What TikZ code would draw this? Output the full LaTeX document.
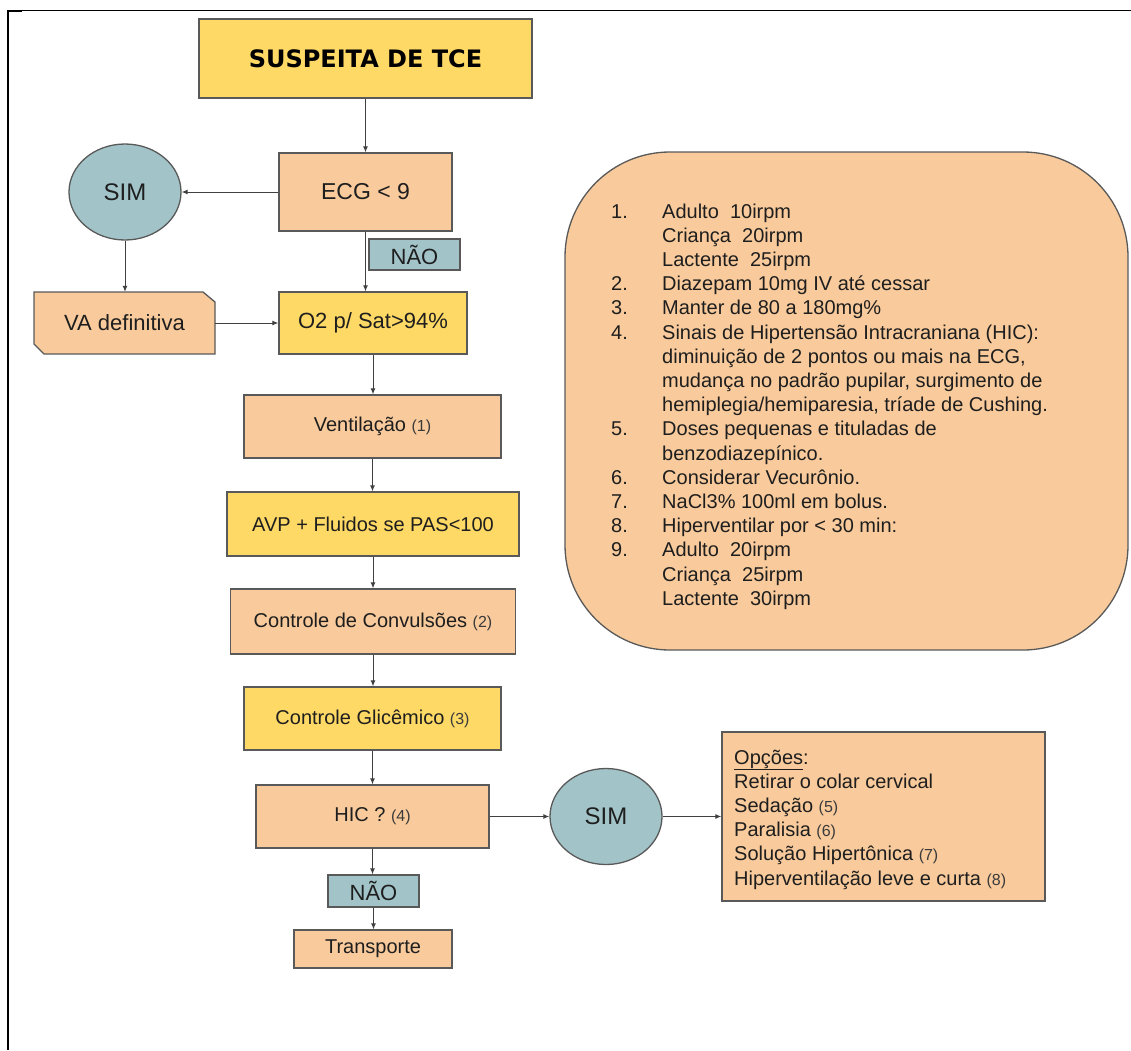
\documentclass[tikz,border=0pt]{standalone}
\usepackage{fontspec}
\setmainfont{Liberation Sans}
\newfontfamily\titlefont{DejaVu Sans}
\usetikzlibrary{arrows.meta,shapes.geometric}

\definecolor{boxyellow}{HTML}{FFD966}
\definecolor{boxpeach}{HTML}{F9CB9C}
\definecolor{boxteal}{HTML}{A2C4C9}
\definecolor{edge}{HTML}{595959}
\definecolor{ink}{HTML}{1E1E1E}
\definecolor{inksoft}{HTML}{3A3A3A}

% small reference number after a step
\newcommand\pnum[1]{{\fontsize{16}{18}\selectfont\color{inksoft}(#1)}}
\newcommand\bodytext{\fontsize{20}{24.2}\selectfont}

\begin{document}
\begin{tikzpicture}[x=1pt,y=-1pt,
  every node/.style={text=ink, font=\bodytext},
  box/.style={draw=edge, line width=1.3pt, inner sep=0pt, align=center},
  ybox/.style={box, fill=boxyellow},
  pbox/.style={box, fill=boxpeach},
  tbox/.style={box, fill=boxteal, font=\fontsize{22}{24}\selectfont},
  simnode/.style={box, fill=boxteal, ellipse, minimum width=112pt, minimum height=96pt,
                  font=\fontsize{24}{26}\selectfont},
  arr/.style={draw=ink!85, line width=1pt, -{Latex[length=6pt,width=5pt]}}]

\useasboundingbox (0,0) rectangle (1131,1050);

% page frame
\draw[line width=1pt, black] (8,10.5) -- (1131,10.5);
\draw[line width=2.2pt, black] (8.3,10) -- (8.3,1050);
\draw[line width=2pt, black] (8,11) -- (22,11);

% main column
\node[ybox, minimum width=333pt, minimum height=79pt, text=black,
      font={\titlefont\bfseries\fontsize{24}{28}\selectfont}] (title) at (365.5,58.5) {SUSPEITA DE TCE};
\node[pbox, minimum width=173pt, minimum height=78pt, font=\fontsize{23}{26}\selectfont] (ecg) at (365.5,192) {ECG < 9};
\node[tbox, minimum width=91pt, minimum height=31pt] (nao1) at (414.5,254.5) {NÃO};
\node[simnode] (sim1) at (125,192) {SIM};

% chamfered box for the airway step
\draw[draw=edge, line width=1.3pt, fill=boxpeach]
  (34,292) -- (203,292) -- (215,302) -- (215,354) -- (44,354) -- (34,344) -- cycle;
\node[minimum width=181pt, minimum height=62pt, inner sep=0pt,
      font=\fontsize{22}{24}\selectfont] (va) at (124.5,323) {VA definitiva};

\node[ybox, minimum width=188pt, minimum height=62pt, font=\fontsize{22}{24}\selectfont] (o2) at (373,323) {O2 p/ Sat>94\%};
\node[pbox, minimum width=257pt, minimum height=63pt] (vent) at (372.5,426.5) {Ventilação \pnum{1}};
\node[ybox, minimum width=292pt, minimum height=64pt] (avp) at (373,524) {AVP + Fluidos se PAS<100};
\node[pbox, minimum width=285pt, minimum height=65pt] (conv) at (373,621.5) {Controle de Convulsões \pnum{2}};
\node[ybox, minimum width=257pt, minimum height=63pt] (glic) at (372.5,718.5) {Controle Glicêmico \pnum{3}};
\node[pbox, minimum width=233pt, minimum height=63pt] (hic) at (372.5,816.5) {HIC ? \pnum{4}};
\node[tbox, minimum width=91pt, minimum height=32pt] (nao2) at (373.5,891) {NÃO};
\node[pbox, minimum width=158pt, minimum height=38pt] (transp) at (373,949) {Transporte};

\node[simnode] (sim2) at (606,816.5) {SIM};

% options box
\node[pbox, minimum width=323pt, minimum height=169pt] (opc) at (883.5,816.5) {};
\node[anchor=base west, inner sep=0pt] (opclist) at (734,764)
  {\begin{tabular}[t]{@{}l@{}}
   \underline{Opções}:\\
   Retirar o colar cervical\\
   Sedação \pnum{5}\\
   Paralisia \pnum{6}\\
   Solução Hipertônica \pnum{7}\\
   Hiperventilação leve e curta \pnum{8}
   \end{tabular}};

% notes panel
\node[draw=edge, line width=1.3pt, fill=boxpeach, rounded corners=105pt,
      minimum width=563pt, minimum height=498pt, inner sep=0pt] (notes) at (846.5,401) {};
\node[anchor=base west, inner sep=0pt] (notelist) at (611,218)
  {\begin{tabular}[t]{@{}p{51pt}@{}l@{}}
   1. & Adulto\ \ 10irpm\\
      & Criança\ \ 20irpm\\
      & Lactente\ \ 25irpm\\
   2. & Diazepam 10mg IV até cessar\\
   3. & Manter de 80 a 180mg\%\\
   4. & Sinais de Hipertensão Intracraniana (HIC):\\
      & diminuição de 2 pontos ou mais na ECG,\\
      & mudança no padrão pupilar, surgimento de\\
      & hemiplegia/hemiparesia, tríade de Cushing.\\
   5. & Doses pequenas e tituladas de\\
      & benzodiazepínico.\\
   6. & Considerar Vecurônio.\\
   7. & NaCl3\% 100ml em bolus.\\
   8. & Hiperventilar por < 30 min:\\
   9. & Adulto\ \ 20irpm\\
      & Criança\ \ 25irpm\\
      & Lactente\ \ 30irpm
   \end{tabular}};

% connectors
\draw[arr] (title.south) -- (ecg.north);
\draw[arr] (ecg.west) -- (sim1.east);
\draw[arr] (sim1.south) -- (sim1.south |- va.north);
\draw[arr] (va.east) -- (o2.west);
\draw[arr] (ecg.south) -- (ecg.south |- o2.north);
\draw[arr] (o2.south) -- (o2.south |- vent.north);
\draw[arr] (vent.south) -- (vent.south |- avp.north);
\draw[arr] (avp.south) -- (avp.south |- conv.north);
\draw[arr] (conv.south) -- (conv.south |- glic.north);
\draw[arr] (glic.south) -- (glic.south |- hic.north);
\draw[arr] (hic.south) -- (hic.south |- nao2.north);
\draw[arr] (nao2.south) -- (nao2.south |- transp.north);
\draw[arr] (hic.east) -- (sim2.west);
\draw[arr] (sim2.east) -- (opc.west);
\end{tikzpicture}
\end{document}
